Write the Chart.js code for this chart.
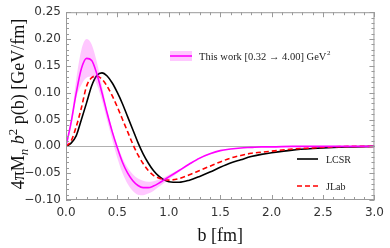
<!DOCTYPE html>
<html>
<head>
<meta charset="utf-8">
<script src="https://cdn.jsdelivr.net/npm/chart.js@4.4.1/dist/chart.umd.min.js"></script>
<style>
  html, body { margin: 0; padding: 0; background: #fff; }
  #chart { display: block; }
</style>
</head>
<body>
<canvas id="chart" width="390" height="248"></canvas>
<script>
// impact parameter grid b [fm]
const bGrid = [0, 0.05, 0.1, 0.15, 0.2, 0.25, 0.3, 0.35, 0.4, 0.45, 0.5, 0.55, 0.6, 0.65, 0.7, 0.75,
    0.8, 0.85, 0.9, 0.95, 1.0, 1.1, 1.2, 1.3, 1.4, 1.5, 1.6, 1.7, 1.8, 1.9, 2.0, 2.2, 2.4, 2.6, 2.8, 3.0];

// this work, central curve
const thisWork = [0, 0.045, 0.10, 0.145, 0.164, 0.160, 0.135, 0.100, 0.062, 0.027, -0.003, -0.030,
    -0.050, -0.064, -0.073, -0.077, -0.077, -0.074, -0.069, -0.063, -0.057, -0.045, -0.033, -0.022,
    -0.014, -0.008, -0.005, -0.003, -0.002, -0.001, -0.001, 0, 0, 0, 0, 0];

// uncertainty band
const bandUpper = [0, 0.05, 0.125, 0.18, 0.20, 0.19, 0.157, 0.113, 0.068, 0.032, 0.002, -0.022,
    -0.040, -0.052, -0.060, -0.064, -0.066, -0.065, -0.062, -0.058, -0.053, -0.043, -0.032, -0.021,
    -0.013, -0.008, -0.005, -0.003, -0.002, -0.001, -0.001, 0, 0, 0, 0, 0];
const bandLower = [0, 0.035, 0.09, 0.115, 0.128, 0.13, 0.115, 0.085, 0.048, 0.012, -0.022, -0.050,
    -0.070, -0.083, -0.090, -0.091, -0.088, -0.083, -0.076, -0.069, -0.062, -0.048, -0.035, -0.024,
    -0.015, -0.009, -0.005, -0.003, -0.002, -0.001, -0.001, 0, 0, 0, 0, 0];

// LCSR
const lcsr = [0, 0.006, 0.02, 0.05, 0.081, 0.113, 0.132, 0.137, 0.131, 0.118, 0.100, 0.079, 0.055,
    0.031, 0.007, -0.014, -0.031, -0.045, -0.055, -0.062, -0.066, -0.067, -0.063, -0.056, -0.048,
    -0.039, -0.031, -0.025, -0.019, -0.015, -0.012, -0.007, -0.004, -0.002, -0.001, 0];

// JLab
const jlab = [0, 0.01, 0.037, 0.072, 0.112, 0.128, 0.131, 0.125, 0.112, 0.094, 0.073, 0.050, 0.027,
    0.004, -0.016, -0.032, -0.045, -0.054, -0.059, -0.062, -0.063, -0.06, -0.053, -0.045, -0.037,
    -0.029, -0.022, -0.017, -0.013, -0.011, -0.009, -0.005, -0.003, -0.001, 0, 0];

const xTicks = [0, 0.5, 1.0, 1.5, 2.0, 2.5, 3.0];
const yTicks = [-0.10, -0.05, 0.00, 0.05, 0.10, 0.15, 0.20, 0.25];

const MAGENTA = '#ff00ff';
const BAND = 'rgba(255, 0, 255, 0.22)';
const FRAME = '#9a9a9a';
const SERIF = '"Liberation Serif", "DejaVu Serif", serif';

function pts(values) {
    return bGrid.map((b, i) => ({x: b, y: values[i]}));
}

// frame, inner tick marks and zero line
const framePlugin = {
    id: 'frame',
    beforeDatasetsDraw(chart) {
        const {ctx, chartArea: a, scales: {y}} = chart;
        ctx.save();
        ctx.strokeStyle = '#b0b0b0';
        ctx.lineWidth = 1;
        const y0 = Math.round(y.getPixelForValue(0)) + 0.5;
        ctx.beginPath();
        ctx.moveTo(a.left, y0);
        ctx.lineTo(a.right, y0);
        ctx.stroke();
        ctx.restore();
    },
    afterDraw(chart) {
        const {ctx, chartArea: a, scales: {x, y}} = chart;
        ctx.save();
        ctx.strokeStyle = FRAME;
        ctx.lineWidth = 1;
        ctx.strokeRect(a.left + 0.5, a.top + 0.5, a.right - a.left - 1, a.bottom - a.top - 1);
        ctx.beginPath();
        for (let i = 0; i <= 30; i++) {
            const px = Math.round(x.getPixelForValue(i / 10)) + 0.5;
            const len = i % 5 === 0 ? 5 : 3;
            ctx.moveTo(px, a.bottom);
            ctx.lineTo(px, a.bottom - len);
            ctx.moveTo(px, a.top);
            ctx.lineTo(px, a.top + len);
        }
        for (let i = -10; i <= 25; i++) {
            const py = Math.round(y.getPixelForValue(i / 100)) + 0.5;
            const len = i % 5 === 0 ? 5 : 3;
            ctx.moveTo(a.left, py);
            ctx.lineTo(a.left + len, py);
            ctx.moveTo(a.right, py);
            ctx.lineTo(a.right - len, py);
        }
        ctx.stroke();
        ctx.restore();
    }
};

// rotated y title with sub/superscripts, and the in-plot legends
const labelsPlugin = {
    id: 'labels',
    afterDraw(chart) {
        const {ctx} = chart;
        ctx.save();

        // y axis title
        const fs = 18;
        const parts = [
            {t: '4\u03c0M', f: fs + 'px ' + SERIF, dy: 0},
            {t: 'n', f: 'italic ' + Math.round(fs * 0.7) + 'px ' + SERIF, dy: 4},
            {t: ' ', f: fs + 'px ' + SERIF, dy: 0},
            {t: 'b', f: 'italic ' + fs + 'px ' + SERIF, dy: 0},
            {t: '2', f: Math.round(fs * 0.7) + 'px ' + SERIF, dy: -7},
            {t: ' p(b) [GeV/fm]', f: fs + 'px ' + SERIF, dy: 0}
        ];
        let total = 0;
        parts.forEach(p => { ctx.font = p.f; p.w = ctx.measureText(p.t).width; total += p.w; });
        ctx.translate(24, 104);
        ctx.rotate(-Math.PI / 2);
        ctx.fillStyle = '#111';
        ctx.textBaseline = 'alphabetic';
        let cx = -total / 2;
        parts.forEach(p => {
            ctx.font = p.f;
            ctx.fillText(p.t, cx, p.dy);
            cx += p.w;
        });
        ctx.setTransform(1, 0, 0, 1, 0, 0);

        // "This work" legend entry
        ctx.fillStyle = BAND;
        ctx.fillRect(170, 51, 22, 10);
        ctx.strokeStyle = MAGENTA;
        ctx.lineWidth = 1.6;
        ctx.beginPath();
        ctx.moveTo(170, 56);
        ctx.lineTo(192, 56);
        ctx.stroke();
        ctx.fillStyle = '#222';
        ctx.font = '10.5px ' + SERIF;
        ctx.textBaseline = 'middle';
        const lab = 'This work [0.32 \u2192 4.00] GeV';
        ctx.fillText(lab, 199, 57);
        const lw = ctx.measureText(lab).width;
        ctx.font = '7px ' + SERIF;
        ctx.fillText('2', 199 + lw + 0.5, 53);

        // LCSR / JLab entries
        ctx.lineWidth = 1.6;
        ctx.strokeStyle = '#000';
        ctx.beginPath();
        ctx.moveTo(297, 159);
        ctx.lineTo(318, 159);
        ctx.stroke();
        ctx.strokeStyle = '#ff0000';
        ctx.setLineDash([5, 3]);
        ctx.beginPath();
        ctx.moveTo(297, 186);
        ctx.lineTo(318, 186);
        ctx.stroke();
        ctx.setLineDash([]);
        ctx.font = '10px ' + SERIF;
        ctx.fillStyle = '#222';
        ctx.fillText('LCSR', 326, 160);
        ctx.fillText('JLab', 326, 187);

        ctx.restore();
    }
};

const ctx = document.getElementById('chart').getContext('2d');
new Chart(ctx, {
    type: 'line',
    data: {
        datasets: [
            {data: pts(bandUpper), borderWidth: 0, pointRadius: 0, fill: '+1',
                backgroundColor: BAND, cubicInterpolationMode: 'monotone'},
            {data: pts(bandLower), borderWidth: 0, pointRadius: 0, fill: false,
                cubicInterpolationMode: 'monotone'},
            {data: pts(thisWork), borderColor: MAGENTA, borderWidth: 1.6, pointRadius: 0,
                fill: false, cubicInterpolationMode: 'monotone'},
            {data: pts(jlab), borderColor: '#ff0000', borderWidth: 1.6, borderDash: [5, 3],
                pointRadius: 0, fill: false, cubicInterpolationMode: 'monotone'},
            {data: pts(lcsr), borderColor: '#000000', borderWidth: 1.6, pointRadius: 0,
                fill: false, cubicInterpolationMode: 'monotone'}
        ]
    },
    options: {
        responsive: false,
        animation: false,
        devicePixelRatio: 1,
        layout: {padding: {top: 7, right: 10, left: 0, bottom: 0}},
        plugins: {legend: {display: false}, tooltip: {enabled: false}},
        scales: {
            x: {
                type: 'linear',
                min: 0,
                max: 3,
                afterFit: s => { s.height = 48; },
                afterBuildTicks: s => { s.ticks = xTicks.map(v => ({value: v})); },
                ticks: {
                    padding: 6,
                    color: '#333',
                    font: {family: '"DejaVu Sans", sans-serif', size: 12},
                    callback: v => v.toFixed(1)
                },
                grid: {display: false, drawTicks: false},
                border: {display: false},
                title: {
                    display: true,
                    text: 'b [fm]',
                    color: '#111',
                    font: {family: SERIF, size: 18},
                    padding: {top: 0, bottom: 1}
                }
            },
            y: {
                type: 'linear',
                min: -0.1,
                max: 0.25,
                afterFit: s => { s.width = 66; },
                afterBuildTicks: s => { s.ticks = yTicks.map(v => ({value: v})); },
                ticks: {
                    padding: 5,
                    color: '#333',
                    font: {family: '"DejaVu Sans", sans-serif', size: 12},
                    callback: v => (v < 0 ? '\u2212' : '') + Math.abs(v).toFixed(2)
                },
                grid: {display: false, drawTicks: false},
                border: {display: false}
            }
        }
    },
    plugins: [framePlugin, labelsPlugin]
});
</script>
</body>
</html>
